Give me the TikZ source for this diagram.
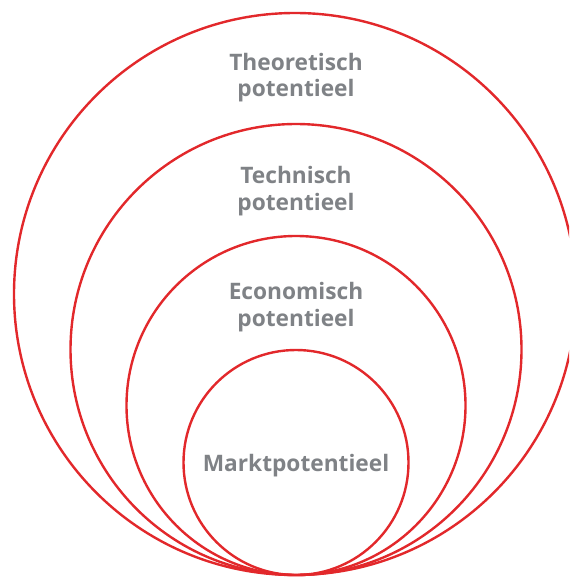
\documentclass[tikz,border=0pt]{standalone}
\usepackage{fontspec}
\setmainfont{Open Sans}
\definecolor{ringred}{HTML}{E2282B}
\definecolor{labelgray}{HTML}{7F8286}
\begin{document}
\begin{tikzpicture}[x=1pt,y=-1pt,
  ring/.style={draw=ringred,line width=2.4pt},
  lbl/.style={text=labelgray,font=\fontsize{22.7}{26.5}\selectfont\bfseries,align=center,inner sep=0pt}]
\useasboundingbox (0,0) rectangle (569,577);
\clip (0,0) rectangle (569,577);
\node[ring,circle,minimum size=562pt,inner sep=0pt] (c1) at (295,294) {};
\node[ring,circle,minimum size=451pt,inner sep=0pt] (c2) at (296,349.5) {};
\node[ring,circle,minimum size=339pt,inner sep=0pt] (c3) at (296,405.5) {};
\node[ring,circle,minimum size=225pt,inner sep=0pt] (c4) at (296,462.5) {};
\node[lbl] (t1) at (296,77.5) {Theoretisch\\potentieel};
\node[lbl] (t2) at (296,191) {Technisch\\potentieel};
\node[lbl] (t3) at (296,307) {Economisch\\potentieel};
\node[lbl] (t4) at (296,466) {Marktpotentieel};
\end{tikzpicture}
\end{document}
